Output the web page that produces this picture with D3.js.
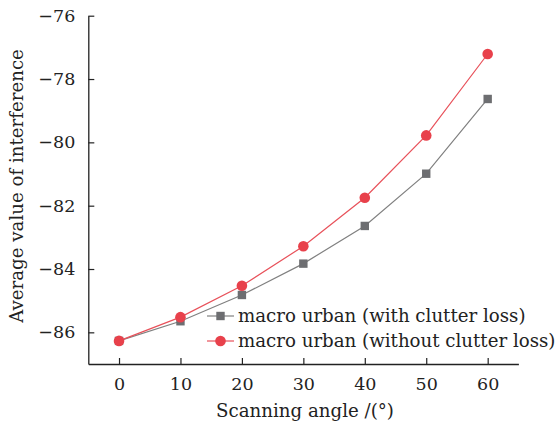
<!DOCTYPE html>
<html>
<head>
<meta charset="utf-8">
<script src="https://cdn.jsdelivr.net/npm/d3@7"></script>
<style>
  body { margin: 0; background: #fff; }
  text { font-family: "DejaVu Serif", serif; fill: #222; }
</style>
</head>
<body>
<div id="chart"></div>
<script>
var angles = [0, 10, 20, 30, 40, 50, 60];
var withClutter = [-86.27, -85.65, -84.82, -83.83, -82.64, -80.99, -78.63];
var withoutClutter = [-86.27, -85.52, -84.53, -83.28, -81.75, -79.78, -77.21];
var seriesNames = ["macro urban (with clutter loss)", "macro urban (without clutter loss)"];
var xTicks = [0, 10, 20, 30, 40, 50, 60];
var yTicks = [-86, -84, -82, -80, -78, -76];

var width = 556, height = 425;

var svg = d3.select('#chart').append('svg')
    .attr('width', width)
    .attr('height', height);

var x = d3.scaleLinear().domain([-5, 65]).range([88.3, 518.4]);
var y = d3.scaleLinear().domain([-87, -76]).range([364, 15.7]);

var fmt = function(d) { return String(d).replace('-', '\u2212'); };

var xAxis = svg.append('g')
    .attr('transform', 'translate(0,' + y(-87) + ')')
    .call(d3.axisBottom(x).tickValues(xTicks).tickSizeInner(-6).tickSizeOuter(0).tickPadding(14));
var yAxis = svg.append('g')
    .attr('transform', 'translate(' + x(-5) + ',0)')
    .call(d3.axisLeft(y).tickValues(yTicks).tickSizeInner(-6).tickSizeOuter(0).tickPadding(13).tickFormat(fmt));

[xAxis, yAxis].forEach(function(g) {
    g.select('.domain').attr('stroke', '#222').attr('stroke-width', 1.3);
    g.selectAll('.tick line').attr('stroke', '#222').attr('stroke-width', 1.2);
    g.selectAll('.tick text').style('font-size', '17.5px').style('font-family', '"DejaVu Serif", serif').attr('fill', '#222');
});

var series = [
    { name: seriesNames[0], values: withClutter, line: '#808080', mark: '#6d6e71', shape: 'square' },
    { name: seriesNames[1], values: withoutClutter, line: '#e8515a', mark: '#e8414b', shape: 'circle' }
];

var line = d3.line()
    .x(function(d, i) { return x(angles[i]); })
    .y(function(d) { return y(d); });

function drawMark(g, shape, cx, cy, color) {
    if (shape === 'square') {
        g.append('rect').attr('x', cx - 4.2).attr('y', cy - 4.2)
            .attr('width', 8.4).attr('height', 8.4).attr('fill', color);
    } else {
        g.append('circle').attr('cx', cx).attr('cy', cy).attr('r', 5.3).attr('fill', color);
    }
}

series.forEach(function(s) {
    svg.append('path')
        .datum(s.values)
        .attr('d', line)
        .attr('fill', 'none')
        .attr('stroke', s.line)
        .attr('stroke-width', 1.2);
    var g = svg.append('g');
    s.values.forEach(function(v, i) {
        drawMark(g, s.shape, x(angles[i]), y(v), s.mark);
    });
});

// legend
var legend = svg.append('g');
series.forEach(function(s, i) {
    var ly = 316 + i * 25;
    legend.append('line').attr('x1', 207).attr('x2', 234).attr('y1', ly).attr('y2', ly)
        .attr('stroke', s.line).attr('stroke-width', 1.2);
    drawMark(legend, s.shape, 220.5, ly, s.mark);
    legend.append('text').attr('x', 238).attr('y', ly + 6)
        .style('font-size', '18.2px')
        .text(s.name);
});

svg.append('text')
    .attr('x', 305).attr('y', 417)
    .attr('text-anchor', 'middle')
    .style('font-size', '18.2px')
    .text('Scanning angle /(\u00b0)');

svg.append('text')
    .attr('transform', 'translate(23,' + 186 + ') rotate(-90)')
    .attr('text-anchor', 'middle')
    .style('font-size', '18.2px')
    .text('Average value of interference');
</script>
</body>
</html>
